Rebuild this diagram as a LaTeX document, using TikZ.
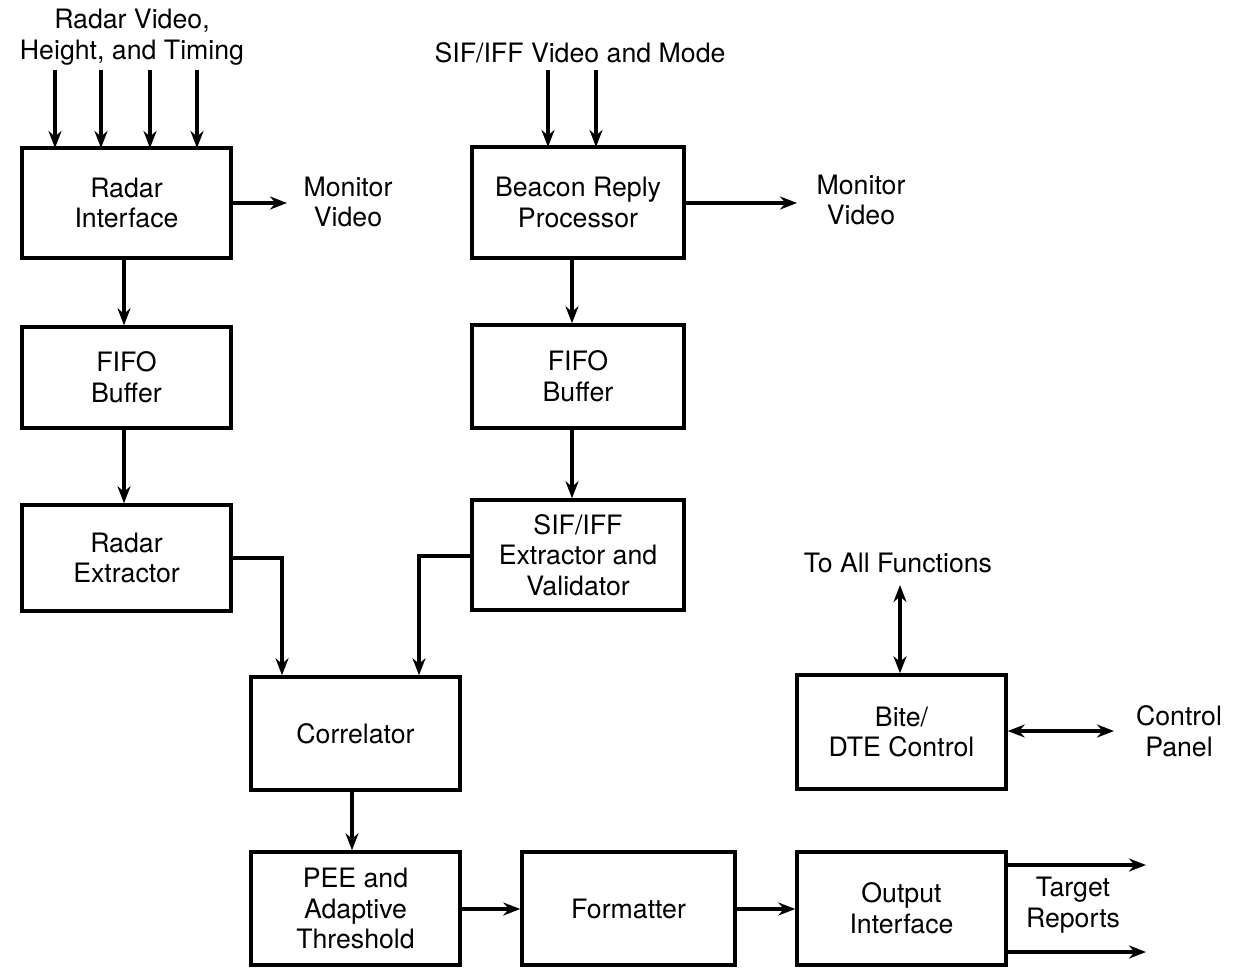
\documentclass[tikz,border=0pt]{standalone}
\usepackage{fontspec}
\setmainfont{TeX Gyre Heros}
\usetikzlibrary{arrows.meta}
\begin{document}
\begin{tikzpicture}[x=0.02cm,y=-0.02cm,
  font=\fontsize{15.2}{17.5}\selectfont,
  box/.style={draw,line width=2pt,minimum width=4.18cm,align=center,inner sep=0pt},
  lbl/.style={align=center,inner sep=0pt},
  conn/.style={line width=2pt,-{Stealth[length=3.4mm,width=2.6mm]}},
  dconn/.style={line width=2pt,{Stealth[length=3.4mm,width=2.6mm]}-{Stealth[length=3.4mm,width=2.6mm]}}]
\useasboundingbox (0,0) rectangle (1239,967);
% boxes
\node[box,minimum height=2.2cm] (ri) at (126.5,203) {Radar\\Interface};
\node[box,minimum height=2.02cm] (fl) at (126.5,377.5) {FIFO\\Buffer};
\node[box,minimum height=2.12cm] (re) at (126.5,558) {Radar\\Extractor};
\node[box,minimum width=4.24cm,minimum height=2.22cm] (br) at (578,202.5) {Beacon Reply\\Processor};
\node[box,minimum width=4.24cm,minimum height=2.06cm] (fr) at (578,376.5) {FIFO\\Buffer};
\node[box,minimum width=4.24cm,minimum height=2.2cm] (se) at (578,555) {SIF/IFF\\Extractor and\\Validator};
\node[box,minimum height=2.26cm] (co) at (355.5,733.5) {Correlator};
\node[box,minimum height=2.26cm] (pe) at (355.5,908.5) {PEE and\\Adaptive\\Threshold};
\node[box,minimum width=4.26cm,minimum height=2.26cm] (fo) at (628.5,908.5) {Formatter};
\node[box,minimum height=2.26cm] (oi) at (901.5,908.5) {Output\\Interface};
\node[box,minimum height=2.28cm] (bd) at (901.5,732) {Bite/\\DTE Control};
% labels
\node[lbl] (tin1) at (132,37) {Radar Video,\\Height, and Timing};
\node[lbl] (tin2) at (580,53) {SIF/IFF Video and Mode};
\node[lbl] (mv1) at (348,202) {Monitor\\Video};
\node[lbl] (mv2) at (861,200) {Monitor\\Video};
\node[lbl] (taf) at (898,563) {To All Functions};
\node[lbl] (cp) at (1179,731) {Control\\Panel};
\node[lbl] (tr) at (1073,905) {Target\\Reports};
% free ends
\foreach \x/\n in {55/a,101/b,150/c,197/d}{
  \coordinate (in\n) at (\x,70);
  \coordinate (ri\n) at (\x,148);
  \draw[conn] (in\n) -- (ri\n);
}
\foreach \x/\n in {548/a,596/b}{
  \coordinate (sn\n) at (\x,70);
  \coordinate (br\n) at (\x,147);
  \draw[conn] (sn\n) -- (br\n);
}
\coordinate (mve1) at (287,203);
\coordinate (mve2) at (797,203);
\coordinate (tafe) at (900,585);
\coordinate (cpe) at (1114,731);
\coordinate (tr1) at (1146,865);
\coordinate (tr2) at (1146,952);
% connectors
\draw[conn] (ri.east|-mve1) -- (mve1);
\draw[conn] (br.east|-mve2) -- (mve2);
\draw[conn] (ri.south-|124,0) -- (fl.north-|124,0);
\draw[conn] (fl.south-|124,0) -- (re.north-|124,0);
\draw[conn] (br.south-|572,0) -- (fr.north-|572,0);
\draw[conn] (fr.south-|572,0) -- (se.north-|572,0);
\draw[conn] (re.east|-0,558) -- (282,558) -- (co.north-|282,0);
\draw[conn] (se.west|-0,556) -- (419,556) -- (co.north-|419,0);
\draw[conn] (co.south-|352,0) -- (pe.north-|352,0);
\draw[conn] (pe.east|-0,909) -- (fo.west|-0,909);
\draw[conn] (fo.east|-0,909) -- (oi.west|-0,909);
\draw[conn] (oi.east|-tr1) -- (tr1);
\draw[conn] (oi.east|-tr2) -- (tr2);
\draw[dconn] (bd.north-|tafe) -- (tafe);
\draw[dconn] (bd.east|-cpe) -- (cpe);
\end{tikzpicture}
\end{document}
